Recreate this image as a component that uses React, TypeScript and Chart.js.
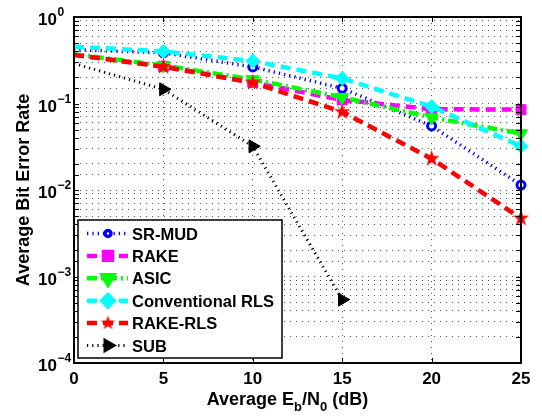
import React, { useEffect, useRef } from 'react';
import { Chart, registerables } from 'chart.js';
import { drawPoint } from 'chart.js/helpers';

Chart.register(...registerables);

// ---- data ----
const snrDb = [0, 5, 10, 15, 20, 25];
const srMud = [0.42, 0.385, 0.265, 0.15, 0.055, 0.0114];
const rake = [0.365, 0.27, 0.175, 0.11, 0.086, 0.085];
const asic = [0.37, 0.275, 0.19, 0.118, 0.069, 0.045];
const convRls = [0.455, 0.4, 0.31, 0.195, 0.092, 0.032];
const rakeRls = [0.365, 0.266, 0.174, 0.08, 0.023, 0.0047];
const sub = [0.29, 0.146, 0.032, 0.00054];
const seriesNames = ['SR-MUD', 'RAKE', 'ASIC', 'Conventional RLS', 'RAKE-RLS', 'SUB'];
const yTickExponents = [0, -1, -2, -3, -4];
const xTickValues = [0, 5, 10, 15, 20, 25];

const FONT = "'Liberation Sans', Arial, Helvetica, sans-serif";

function makeStar(color: string, R: number): HTMLCanvasElement {
  const c = document.createElement('canvas');
  const s = Math.ceil(2 * R + 2);
  c.width = s;
  c.height = s;
  const g = c.getContext('2d')!;
  const cx = s / 2, cy = s / 2, r = R * 0.4;
  g.beginPath();
  for (let i = 0; i < 10; i++) {
    const ang = -Math.PI / 2 + (i * Math.PI) / 5;
    const rr = i % 2 === 0 ? R : r;
    const px = cx + rr * Math.cos(ang), py = cy + rr * Math.sin(ang);
    if (i === 0) g.moveTo(px, py); else g.lineTo(px, py);
  }
  g.closePath();
  g.fillStyle = color;
  g.fill();
  return c;
}

export default function App() {
  const ref = useRef<HTMLCanvasElement>(null);

  useEffect(() => {
    const star = makeStar('#ff0000', 8.5);
    const legendStar = makeStar('#ff0000', 7.5);
    const styles = [
      { color: '#0000ff', dash: [1.3, 4], width: 3.5, pointStyle: 'circle', radius: 4, rotation: 0, fill: '#ffffff', pbw: 3 },
      { color: '#ff00ff', dash: [10, 6], width: 4.5, pointStyle: 'rect', radius: 7, rotation: 0, fill: '#ff00ff', pbw: 1 },
      { color: '#00ff00', dash: [10, 4, 2, 4], width: 4.5, pointStyle: 'triangle', radius: 7.5, rotation: 180, fill: '#00ff00', pbw: 1 },
      { color: '#00ffff', dash: [10, 6], width: 4.5, pointStyle: 'rectRot', radius: 7, rotation: 0, fill: '#00ffff', pbw: 1 },
      { color: '#ff0000', dash: [10, 6], width: 4.5, pointStyle: star as any, radius: 8.5, rotation: 0, fill: '#ff0000', pbw: 0 },
      { color: '#000000', dash: [1.2, 4], width: 3, pointStyle: 'triangle', radius: 7.5, rotation: 90, fill: '#000000', pbw: 1 },
    ];
    const values = [srMud, rake, asic, convRls, rakeRls, sub];

    const datasets = values.map((vals, k) => {
      const st = styles[k];
      return {
        label: seriesNames[k],
        data: vals.map((v, i) => ({ x: snrDb[i], y: v })),
        borderColor: st.color,
        backgroundColor: st.fill,
        borderWidth: st.width,
        borderDash: st.dash,
        borderCapStyle: 'butt' as const,
        tension: 0,
        fill: false,
        pointStyle: st.pointStyle,
        pointRotation: st.rotation,
        pointRadius: (c: any) => (c.dataIndex === 0 ? 0 : st.radius),
        pointBackgroundColor: st.fill,
        pointBorderColor: st.color,
        pointBorderWidth: st.pbw,
        clip: false as any,
        order: values.length - k,
      };
    });

    const decor = {
      id: 'decor',
      afterDraw(chart: any) {
        const { ctx, chartArea: a, scales } = chart;
        const xs = scales.x, ys = scales.y;
        ctx.save();
        // inward ticks
        ctx.strokeStyle = '#000';
        ctx.lineWidth = 1;
        ctx.setLineDash([]);
        ctx.beginPath();
        ys.ticks.forEach((t: any) => {
          const py = Math.round(ys.getPixelForValue(t.value)) + 0.5;
          ctx.moveTo(a.left, py); ctx.lineTo(a.left + 5, py);
          ctx.moveTo(a.right, py); ctx.lineTo(a.right - 5, py);
        });
        xs.ticks.forEach((t: any) => {
          const px = Math.round(xs.getPixelForValue(t.value)) + 0.5;
          ctx.moveTo(px, a.bottom); ctx.lineTo(px, a.bottom - 5);
          ctx.moveTo(px, a.top); ctx.lineTo(px, a.top + 5);
        });
        ctx.stroke();
        // frame
        ctx.lineWidth = 2;
        ctx.strokeRect(a.left, a.top, a.right - a.left, a.bottom - a.top);

        // y tick labels 10^k
        ctx.fillStyle = '#000';
        ctx.textAlign = 'left';
        ctx.textBaseline = 'alphabetic';
        yTickExponents.forEach((e) => {
          const py = ys.getPixelForValue(Math.pow(10, e));
          const x0 = a.left - 36;
          ctx.font = `bold 17px ${FONT}`;
          ctx.fillText('10', x0, py + 8);
          const w = ctx.measureText('10').width;
          ctx.font = `bold 12px ${FONT}`;
          ctx.fillText(e === 0 ? '0' : '\u2212' + Math.abs(e), x0 + w + 0.5, py - 1);
        });

        // y title
        ctx.save();
        ctx.translate(a.left - 45.5, (a.top + a.bottom) / 2);
        ctx.rotate(-Math.PI / 2);
        ctx.textAlign = 'center';
        ctx.font = `bold 18px ${FONT}`;
        ctx.fillText('Average Bit Error Rate', 0, 0);
        ctx.restore();

        // x title with subscripts
        const parts: [string, boolean][] = [['Average E', false], ['b', true], ['/N', false], ['0', true], [' (dB)', false]];
        const bigF = `bold 18px ${FONT}`, smallF = `bold 13px ${FONT}`;
        let total = 0;
        parts.forEach(([s, sm]) => { ctx.font = sm ? smallF : bigF; total += ctx.measureText(s).width; });
        let cx = (a.left + a.right) / 2 - 10 - total / 2;
        const base = a.bottom + 42;
        ctx.textAlign = 'left';
        parts.forEach(([s, sm]) => {
          ctx.font = sm ? smallF : bigF;
          ctx.fillText(s, cx, sm ? base + 6 : base);
          cx += ctx.measureText(s).width;
        });

        // legend
        const lx = a.left + 4, lyTop = a.bottom - 143, lw = 204, lh = 138;
        ctx.fillStyle = '#fff';
        ctx.fillRect(lx, lyTop, lw, lh);
        ctx.strokeStyle = '#000';
        ctx.lineWidth = 1.5;
        ctx.strokeRect(lx, lyTop, lw, lh);
        seriesNames.forEach((name, k) => {
          const st = styles[k];
          const cy = lyTop + 13.5 + k * 22.4;
          ctx.save();
          ctx.strokeStyle = st.color;
          ctx.lineWidth = st.width;
          ctx.setLineDash(st.dash);
          ctx.lineCap = 'butt';
          ctx.beginPath();
          ctx.moveTo(lx + 9, cy);
          ctx.lineTo(lx + 50, cy);
          ctx.stroke();
          ctx.setLineDash([]);
          ctx.fillStyle = st.fill;
          ctx.strokeStyle = st.color;
          const ps = k === 4 ? legendStar : st.pointStyle;
          const pbw = k === 0 ? 2.5 : st.pbw;
          const rad = k === 0 ? 3 : st.radius * 0.8;
          drawPoint(ctx, { pointStyle: ps as any, rotation: st.rotation, radius: rad, borderWidth: pbw } as any, lx + 30, cy);
          ctx.restore();
          ctx.fillStyle = '#000';
          ctx.font = `bold 16.5px ${FONT}`;
          ctx.textAlign = 'left';
          ctx.fillText(name, lx + 54, cy + 6);
        });
        ctx.restore();
      },
    };

    const chart = new Chart(ref.current!, {
      type: 'line',
      data: { datasets: datasets as any },
      options: {
        responsive: false,
        animation: false,
        devicePixelRatio: 1,
        layout: { padding: { top: 17, right: 21, left: 0, bottom: 0 } },
        plugins: { legend: { display: false }, tooltip: { enabled: false } },
        scales: {
          x: {
            type: 'linear',
            min: 0,
            max: 25,
            afterBuildTicks: (s: any) => { s.ticks = xTickValues.map((v) => ({ value: v })); },
            afterFit: (s: any) => { s.height = 53; },
            grid: { color: 'rgba(0,0,0,0.65)', lineWidth: 1, drawTicks: false },
            border: { display: false, dash: [1, 5] },
            ticks: {
              color: '#000',
              font: { family: FONT, size: 17, weight: 'bold' },
              padding: 6,
              maxRotation: 0,
              autoSkip: false,
            },
          },
          y: {
            type: 'logarithmic',
            min: 1e-4,
            max: 1,
            afterFit: (s: any) => { s.width = 74; },
            grid: { color: 'rgba(0,0,0,0.65)', lineWidth: 1, drawTicks: false },
            border: { display: false, dash: [1, 5] },
            ticks: { display: false },
          },
        },
      },
      plugins: [decor],
    });
    return () => chart.destroy();
  }, []);

  return (
    <div style={{ position: 'fixed', left: 0, top: 0, width: 542, height: 416, background: '#fff' }}>
      <canvas ref={ref} width={542} height={416} style={{ display: 'block' }} />
    </div>
  );
}
